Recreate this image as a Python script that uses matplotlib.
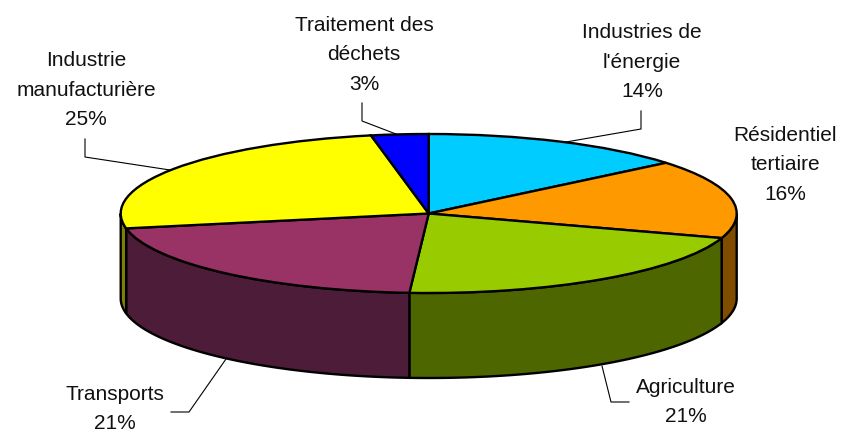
import numpy as np
import matplotlib
matplotlib.use('Agg')
import matplotlib.pyplot as plt
from matplotlib.transforms import Affine2D

plt.rcParams['font.family'] = ['Liberation Sans', 'DejaVu Sans']

# parts, clockwise from the top of the pie
labels = ['Industries de\nl\'énergie', 'Résidentiel\ntertiaire', 'Agriculture',
          'Transports', 'Industrie\nmanufacturière', 'Traitement des\ndéchets']
values = [14, 16, 21, 21, 25, 3]
colors = ['#00CCFF', '#FF9900', '#99CC00', '#993366', '#FFFF00', '#0000FF']
side_colors = ['#006680', '#804C00', '#4D6600', '#4D1C38', '#808000', '#000080']

W, H = 841, 433
cx, cy = 428.7, 213.5
rx, ry = 308, 79.5
depth = 85 / ry

fig = plt.figure(figsize=(W / 100, H / 100), dpi=100)
ax = fig.add_axes([0, 0, 1, 1])

# side wall first, only the front half of the pie shows
edges = np.cumsum([0] + values) / sum(values) * 360
for i in range(len(values)):
    a0 = max(edges[i], 90)
    a1 = min(edges[i + 1], 270)
    if a1 <= a0:
        continue
    t = np.radians(np.linspace(a0, a1, 60))
    x = np.sin(t)
    y = np.cos(t)
    ax.fill(np.r_[x, x[::-1]], np.r_[y, y[::-1] - depth], fc=side_colors[i],
            ec='black', lw=1.7, zorder=1)

wedges, _ = ax.pie(values, colors=colors, startangle=90, counterclock=False,
                   wedgeprops={'edgecolor': 'black', 'linewidth': 1.7})
for w in wedges:
    w.set_zorder(2)

ax.set_aspect('auto')
ax.set_xlim(-cx / rx, (W - cx) / rx)
ax.set_ylim((cy - H) / ry, cy / ry)
ax.axis('off')

# labels and leader lines are placed in picture pixels
px = Affine2D().scale(1 / W, -1 / H).translate(0, 1) + fig.transFigure

label_pos = [(642, 62), (785, 165), (686, 402), (115, 409), (86, 90), (364, 55)]
for lab, v, (tx, ty) in zip(labels, values, label_pos):
    ax.text(tx, ty, f'{lab}\n{v}%', transform=px, ha='center', va='center',
            fontsize=15, linespacing=1.72, color='#111111', zorder=5)

leaders = [
    ([641, 641, 566], [111, 129, 142]),
    ([602, 611, 629], [366, 402, 402]),
    ([226, 189, 171], [359, 412, 412]),
    ([85, 85, 170], [139, 157, 170]),
    ([362, 362, 396], [103, 121, 134]),
]
for lx, ly in leaders:
    ax.plot(lx, ly, transform=px, color='black', lw=0.8, zorder=3, clip_on=False)

fig.savefig('out.png', dpi=100)
